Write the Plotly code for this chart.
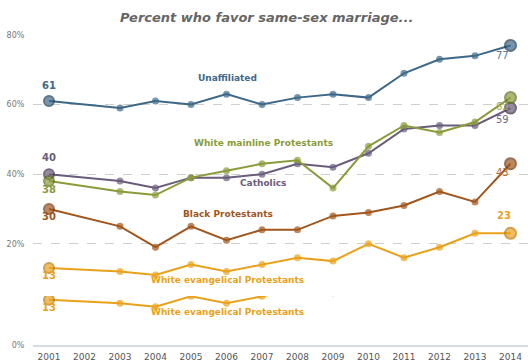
import plotly.graph_objects as go

years = [2001, 2003, 2004, 2005, 2006, 2007, 2008, 2009, 2010, 2011, 2012, 2013, 2014]
unaffiliated = [61, 59, 61, 60, 63, 60, 62, 63, 62, 69, 73, 74, 77]
mainline = [38, 35, 34, 39, 41, 43, 44, 36, 48, 54, 52, 55, 62]
catholics = [40, 38, 36, 39, 39, 40, 43, 42, 46, 53, 54, 54, 59]
black_prot = [30, 25, 19, 25, 21, 24, 24, 28, 29, 31, 35, 32, 43]
evangelical = [13, 12, 11, 14, 12, 14, 16, 15, 20, 16, 19, 23, 23]

x_ticks = list(range(2001, 2015))
y_ticks = [20, 40, 60, 80]
y_ticktext = ["20%", "40%", "60%", "80%"]

C_UNA = "#3d6887"
C_MAIN = "#8a9b3a"
C_CATH = "#6a5c7a"
C_BLACK = "#a1561d"
C_EVAN = "#e9a11b"

FONT = "DejaVu Sans"

fig = go.Figure()

def add_series(vals, color, edge, yaxis="y"):
    sizes = [10] + [7] * (len(vals) - 2) + [11]
    lw = [2] + [0] * (len(vals) - 2) + [2]
    fig.add_trace(go.Scatter(
        x=years, y=vals, mode="lines+markers", yaxis=yaxis,
        line=dict(color=color, width=2),
        marker=dict(color=color, size=sizes, line=dict(color=edge, width=lw)),
        hoverinfo="skip", showlegend=False,
    ))

add_series(evangelical, C_EVAN, "#b9790a", yaxis="y2")
add_series(evangelical, C_EVAN, "#b9790a")
add_series(black_prot, C_BLACK, "#6e3710")
add_series(catholics, C_CATH, "#3b3048")
add_series(mainline, C_MAIN, "#5f6d20")
add_series(unaffiliated, C_UNA, "#1d3a50")

ann = []
def lab(x, y, text, color, xs=0, ys=0, yref="y", bold=True, size=10):
    ann.append(dict(x=x, y=y, xref="x", yref=yref, text=("<b>%s</b>" % text) if bold else text,
                    showarrow=False, xshift=xs, yshift=ys,
                    font=dict(family=FONT, size=size, color=color)))

# start values
lab(years[0], unaffiliated[0], str(unaffiliated[0]), C_UNA, 0, 16)
lab(years[0], catholics[0], str(catholics[0]), C_CATH, 0, 17)
lab(years[0], mainline[0], str(mainline[0]), C_MAIN, 0, -8)
lab(years[0], black_prot[0], str(black_prot[0]), C_BLACK, 0, -8)
lab(years[0], evangelical[0], str(evangelical[0]), C_EVAN, 0, -7)
lab(years[0], evangelical[0], str(evangelical[0]), C_EVAN, 0, -8, yref="y2")
# end values
lab(years[-1], unaffiliated[-1], str(unaffiliated[-1]), "#5b7a92", -8, -10, bold=False, size=10)
lab(years[-1], mainline[-1], str(mainline[-1]), "#9aa85a", -8, -9, bold=False, size=10)
lab(years[-1], catholics[-1], str(catholics[-1]), "#6f6680", -8, -11, bold=False, size=10)
lab(years[-1], black_prot[-1], str(black_prot[-1]), "#b8692c", -8, -9, bold=False, size=10)
lab(years[-1], evangelical[-1], str(evangelical[-1]), C_EVAN, -7, 18)
# series names
lab(2006.04, 67.6, "Unaffiliated", C_UNA, size=9)
lab(2007.03, 49.0, "White mainline Protestants", C_MAIN, size=9)
lab(2007.04, 37.5, "Catholics", C_CATH, size=9)
lab(2006.04, 28.5, "Black Protestants", C_BLACK, size=9)
lab(2006.03, 9.7, "White evangelical Protestants", C_EVAN, size=9)
lab(2006.03, 9.4, "White evangelical Protestants", C_EVAN, size=9, yref="y2")

H = 313.0
TOP2 = 49.5
fig.update_layout(
    width=528, height=362,
    margin=dict(l=33, r=0, t=35, b=14),
    paper_bgcolor="white", plot_bgcolor="white",
    title=dict(text="<b><i>Percent who favor same-sex marriage...</i></b>",
               x=0.505, xanchor="center", y=1 - 17 / 362, yanchor="middle",
               font=dict(family=FONT, size=13, color="#666666")),
    annotations=ann,
    xaxis=dict(range=[2001 - 16 / 35.5, 2014 + 17.5 / 35.5], tickvals=x_ticks,
               showgrid=False, zeroline=False, anchor="y2",
               showline=True, linecolor="#d3dbe3", linewidth=2,
               ticks="outside", ticklen=2, tickcolor="rgba(0,0,0,0)",
               tickfont=dict(family=FONT, size=9, color="#555555")),
    yaxis=dict(domain=[32 / H, 1.0], range=[0, 80], tickvals=y_ticks, ticktext=y_ticktext,
               showgrid=True, gridcolor="#cfcfcf", griddash="dash", gridwidth=1,
               zeroline=False, showline=False,
               ticks="outside", ticklen=6, tickcolor="rgba(0,0,0,0)",
               tickfont=dict(family=FONT, size=8, color="#777777")),
    yaxis2=dict(domain=[0, TOP2 / H], range=[0, TOP2 / 3.5125], tickvals=[0], ticktext=["0%"],
                showgrid=False, zeroline=False, showline=False, anchor="x",
                ticks="outside", ticklen=6, tickcolor="rgba(0,0,0,0)",
                tickfont=dict(family=FONT, size=8, color="#777777")),
)

fig.write_html("out.html")
